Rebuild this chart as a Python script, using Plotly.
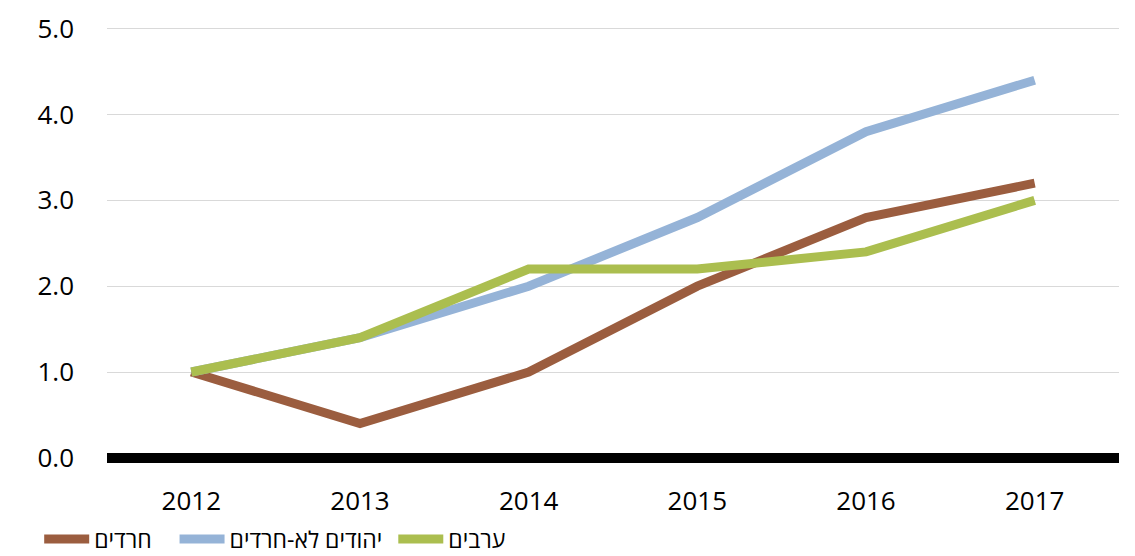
import plotly.graph_objects as go

years = ["2012", "2013", "2014", "2015", "2016", "2017"]
haredim = [1.0, 0.4, 1.0, 2.0, 2.8, 3.2]
non_haredi_jews = [1.0, 1.4, 2.0, 2.8, 3.8, 4.4]
arabs = [1.0, 1.4, 2.2, 2.2, 2.4, 3.0]
names = ["חרדים", "יהודים לא-חרדים", "ערבים"]
colors = ["#9B5D3F", "#95B3D7", "#ABBE4F"]
y_ticks = [0, 1, 2, 3, 4, 5]
y_tick_labels = ["0.0", "1.0", "2.0", "3.0", "4.0", "5.0"]

pads = ["\u00A0" * 3, "\u00A0" * 1, ""]

fig = go.Figure()
for name, vals, col, pad in zip(names, [haredim, non_haredi_jews, arabs], colors, pads):
    fig.add_trace(go.Scatter(
        x=years, y=vals, name=name + pad, mode="lines",
        line=dict(color=col, width=9),
    ))

fig.update_layout(
    width=1135, height=556,
    margin=dict(l=107, r=16, t=27, b=93, autoexpand=False),
    paper_bgcolor="white", plot_bgcolor="white",
    font=dict(family="Open Sans, DejaVu Sans, sans-serif", size=26, color="#000000"),
    showlegend=True,
    legend=dict(
        orientation="h", x=-0.067, xanchor="left", y=-0.125, yanchor="top",
        font=dict(size=23), itemwidth=45,
    ),
    xaxis=dict(
        type="category", range=[-0.5, 5.5], showgrid=False, showline=False, ticks="",
        tickfont=dict(size=26), ticklabelstandoff=20,
    ),
    yaxis=dict(
        range=[-0.06, 5.02], tickvals=y_ticks, ticktext=y_tick_labels,
        showgrid=True, gridcolor="#D9D9D9", gridwidth=1,
        zeroline=True, zerolinecolor="#000000", zerolinewidth=10,
        showline=False, ticks="", tickfont=dict(size=26), ticklabelstandoff=32,
    ),
)

fig.write_html("out.html", config={"displayModeBar": False},
               post_script="document.body.style.margin='0';")
